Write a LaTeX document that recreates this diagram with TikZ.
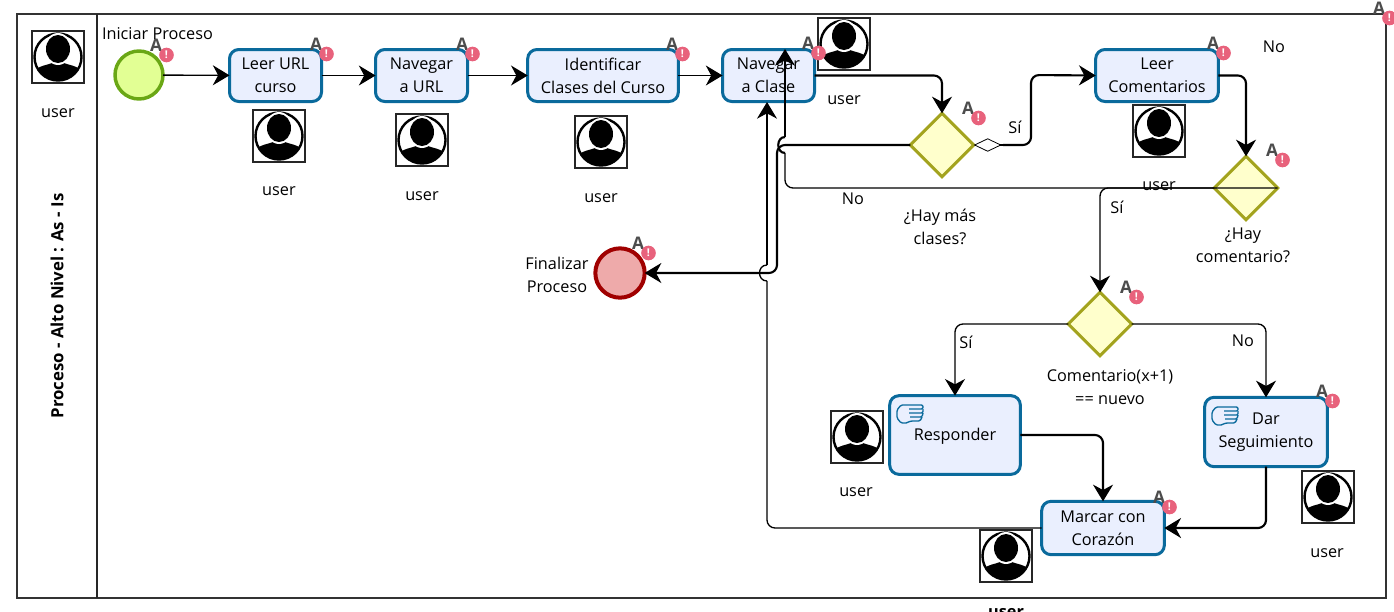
\documentclass[tikz,border=0pt]{standalone}
\usepackage{fontspec}
\setmainfont{Open Sans}
\usetikzlibrary{arrows.meta,shapes.geometric}
\definecolor{taskblue}{HTML}{0A6A9C}
\definecolor{taskfill}{HTML}{EAEFFE}
\definecolor{gateline}{HTML}{A3A31E}
\definecolor{gatefill}{HTML}{FFFFCC}
\definecolor{warnred}{HTML}{E8627C}
\tikzset{
    tasknode/.style={draw=taskblue,fill=taskfill,line width=2.25pt,rounded corners=7pt,align=center,outer sep=0pt,inner sep=0pt,minimum height=39pt,execute at begin node={\rule{0pt}{11pt}}},
    gatenode/.style={diamond,aspect=1,draw=gateline,fill=gatefill,line width=2.25pt,outer sep=0pt,inner sep=0pt,minimum width=47.5pt,minimum height=47.5pt},
    lbl/.style={align=center,inner sep=0pt,text depth=0pt,yshift=-1pt},
    bigtip/.style={-{Stealth[length=12.5pt,width=15pt,inset=4pt]}},
    thinline/.style={line width=1pt,rounded corners=6pt},
    thickline/.style={line width=1.6pt,rounded corners=6pt},
    warnmark/.pic={
        \node (-a) at (0,0) [inner sep=0pt,text=black!70,font=\bfseries\fontsize{13}{13}\selectfont] {A};
        \node (-b) at (10.5,10) [circle,fill=warnred,text=white,inner sep=0pt,minimum size=11pt,font=\bfseries\fontsize{8}{8}\selectfont] {!};
    },
    handmark/.pic={
        \draw[draw=taskblue,line width=1pt,line join=round,rounded corners=1pt]
            (9,18) -- (4,18) -- (0,13) -- (0,5) -- (4,0) -- (26,0) -- (26,4) -- (12,4);
        \draw[draw=taskblue,line width=1pt,rounded corners=1pt] (26,4) -- (26,8) -- (12,8) (26,8) -- (25,12) -- (13,12) (25,12) -- (23,16) -- (14,16) -- (9,18);
    },
    usermark/.pic={
        \fill[white] (-26,-26) rectangle (26,26);
        \begin{scope}
            \clip (0,0) circle (24);
            \fill[black] (-26,26) -- (-26,15) .. controls (-18,8) and (-10,8) .. (-6,6) -- (6,6) .. controls (10,8) and (18,8) .. (26,15) -- (26,26) -- cycle;
        \end{scope}
        \draw[black,line width=1.8pt] (0,0) circle (23.5);
        \fill[white] (0,-8) ellipse (13.5 and 16);
        \fill[black] (0,-8) ellipse (12 and 14);
        \draw[black!85,line width=1.1pt] (-26,-26) rectangle (26,26);
    },
}
\begin{document}
\begin{tikzpicture}[x=0.75pt,y=-0.75pt,font=\fontsize{12.2}{17.25}\selectfont]
    \useasboundingbox (0,0) rectangle (1394,611);

    % pool and lane
    \draw[black!80,line width=1.5pt] (17,14) rectangle (1386,598);
    \draw[black!85,line width=1.2pt] (97,14) -- (97,598);
    \node (poolName) at (57,306) [rotate=90,inner sep=0pt,font=\bfseries\fontsize{12.6}{13}\selectfont] {Proceso - Alto Nivel : As - Is};

    % events
    \node (startEv) at (139,75) [circle,draw={rgb,255:red,106;green,167;blue,21},fill={rgb,255:red,226;green,255;blue,148},line width=2.6pt,minimum size=36pt,outer sep=0pt] {};
    \node (endEv) at (620,273) [circle,draw={rgb,255:red,160;green,0;blue,0},fill={rgb,255:red,238;green,170;blue,170},line width=3pt,minimum size=37pt,outer sep=0pt] {};

    % tasks
    \node (leerUrl) at (275.5,75.5) [tasknode,minimum width=69pt] {Leer URL\\curso};
    \node (navUrl) at (421.5,75.5) [tasknode,minimum width=69pt] {Navegar\\a URL};
    \node (identClases) at (603,75.5) [tasknode,minimum width=113pt] {Identificar\\Clases del Curso};
    \node (navClase) at (768.5,75.5) [tasknode,minimum width=69pt] {Navegar\\a Clase};
    \node (leerCom) at (1157,75.5) [tasknode,minimum width=92pt] {Leer\\Comentarios};
    \node (responder) at (955,435) [tasknode,minimum width=98pt,minimum height=59pt] {Responder};
    \node (darSeg) at (1266,432) [tasknode,minimum width=92pt,minimum height=52pt] {Dar\\Seguimiento};
    \node (marcar) at (1103,528) [tasknode,minimum width=92pt,minimum height=40pt] {Marcar con\\Corazón};

    % gateways
    \node (decClases) at (942,145) [gatenode] {};
    \node (decComent) at (1246,188) [gatenode] {};
    \node (decNuevo) at (1100,324) [gatenode] {};

    \pic at (897,405) {handmark};
    \pic at (1212,407) {handmark};

    % connectors
    \draw[thinline,bigtip] (startEv) -- (leerUrl);
    \draw[thinline,bigtip] (leerUrl) -- (navUrl);
    \draw[thinline,bigtip] (navUrl) -- (identClases);
    \draw[thinline,bigtip] (identClases) -- (navClase);
    \draw[thickline,bigtip] (navClase.east) -| (decClases.north);
    \draw[thickline,bigtip] (leerCom.east) -| (decComent.north);

    \coordinate (siBend) at (1031,75);
    \draw[thickline,{Diamond[open,length=21pt,width=10pt,line width=0.6pt]}-] (decClases.east) -- (1003,145);
    \draw[thickline,bigtip] (1003,145) -| (siBend) -- (leerCom.west);

    % No de clases, baja hasta el fin
    \draw[thickline,bigtip] (decClases.west) -- (777,145) -- (777,273) -- (endEv.east);

    % No de comentario, sube a navegar clase con salto
    \coordinate (navTop) at (785,49);
    \draw[thinline] (decComent.east) -- (785,188) -- (785,153);
    \draw[thickline] (785,153) .. controls (776,153) and (776,137) .. (785,137);
    \draw[thickline,bigtip,rounded corners=0pt] (785,137) -- (navTop);

    \draw[thinline,bigtip] (decComent.west) -| (decNuevo.north);
    \draw[thinline,bigtip] (decNuevo.west) -| (responder.north);
    \draw[thinline,bigtip] (decNuevo.east) -| (darSeg.north);
    \draw[thickline,bigtip] (responder.east) -| (marcar.north);
    \draw[thickline,bigtip] (darSeg.south) |- (marcar.east);

    % vuelta a navegar clase con salto
    \coordinate (navBottom) at (767,102);
    \draw[thinline] (marcar.west) -- (767,528) -- (767,281);
    \draw[thinline] (767,281) .. controls (757,281) and (757,265) .. (767,265);
    \draw[thinline,bigtip] (767,265) -- (navBottom);

    % user marks
    \pic at (58,57) {usermark};
    \pic at (279,136) {usermark};
    \pic at (422,140) {usermark};
    \pic at (601,142) {usermark};
    \pic at (844,44) {usermark};
    \pic at (1159,131) {usermark};
    \pic at (857,437) {usermark};
    \pic at (1328,497) {usermark};
    \pic at (1006,556) {usermark};

    % warnings
    \pic (warnStart) at (156,45) {warnmark};
    \pic (warnLeer) at (316,44) {warnmark};
    \pic (warnNav) at (462,44) {warnmark};
    \pic (warnIdent) at (672,44) {warnmark};
    \pic (warnClase) at (808,43) {warnmark};
    \pic (warnDecA) at (968,108) {warnmark};
    \pic (warnCom) at (1213,43) {warnmark};
    \pic (warnDecB) at (1272,150) {warnmark};
    \pic (warnPool) at (1379,8) {warnmark};
    \pic (warnDecC) at (1126,287) {warnmark};
    \pic (warnDar) at (1322,391) {warnmark};
    \pic (warnMarcar) at (1159,497) {warnmark};
    \pic (warnEnd) at (638,243) {warnmark};

    % labels
    \node (txtIni) at (157.5,32) [lbl] {Iniciar Proceso};
    \node (txtFin) at (557,273.5) [lbl] {Finalizar\\Proceso};
    \node (txtClases) at (940,225) [lbl] {¿Hay más\\clases?};
    \node (txtComent) at (1243,244) [lbl] {¿Hay\\comentario?};
    \node (txtNuevo) at (1110,386) [lbl] {Comentario(x+1)\\== nuevo};
    \node (txtNoA) at (853,197) [lbl] {No};
    \node (txtSiA) at (1015,126) [lbl] {Sí};
    \node (txtNoB) at (1274,45) [lbl] {No};
    \node (txtSiB) at (1117,206) [lbl] {Sí};
    \node (txtSiC) at (966,341) [lbl] {Sí};
    \node (txtNoC) at (1243,339) [lbl] {No};
    \node (usrA) at (58,112) [lbl] {user};
    \node (usrB) at (279,190) [lbl] {user};
    \node (usrC) at (422,195) [lbl] {user};
    \node (usrD) at (601,197) [lbl] {user};
    \node (usrE) at (844,99) [lbl] {user};
    \node (usrF) at (1159,185) [lbl] {user};
    \node (usrG) at (856,491) [lbl] {user};
    \node (usrH) at (1327,552) [lbl] {user};
    \node (usrI) at (1006,612) [lbl,font=\bfseries\fontsize{12.2}{13}\selectfont] {user};
\end{tikzpicture}
\end{document}
